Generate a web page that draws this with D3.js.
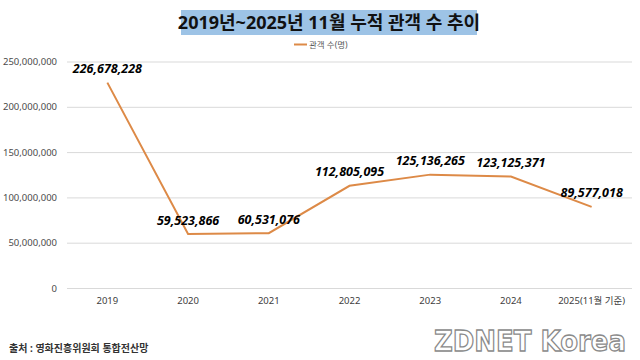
<!DOCTYPE html>
<html><head><meta charset="utf-8">
<script src="https://cdn.jsdelivr.net/npm/d3@7"></script>
<style>body{margin:0;background:#fff}svg{display:block}</style>
</head><body>
<svg id="c" width="640" height="360"></svg>
<script>
const categories = ["2019","2020","2021","2022","2023","2024","2025(11월 기준)"];
const audience = [226678228, 59523866, 60531076, 112805095, 125136265, 123125371, 89577018];
const yTicks = [0, 50000000, 100000000, 150000000, 200000000, 250000000];
const titleText = "2019년~2025년 11월 누적 관객 수 추이";
const legendText = "관객 수(명)";
const sourceText = "출처 : 영화진흥위원회 통합전산망";

const svg = d3.select("#c");
const font = "'Noto Sans','Noto Sans CJK KR',sans-serif";
const m = {l: 67, r: 632, t: 61.5, b: 288};
const x = d3.scaleBand().domain(categories).range([m.l, m.r]);
const y = d3.scaleLinear().domain([0, 250000000]).range([m.b, m.t]);
const fmt = d3.format(",");
const lineColor = "#DD8A47";

// title
svg.append("rect").attr("x",181).attr("y",10).attr("width",296).attr("height",25).attr("fill","#9DC3E6");
svg.append("text").attr("x",329).attr("y",29).attr("text-anchor","middle")
  .attr("font-family",font).attr("font-weight","bold").attr("font-size",18).attr("fill","#111")
  .text(titleText);

// legend
svg.append("line").attr("x1",294).attr("x2",307).attr("y1",44.5).attr("y2",44.5).attr("stroke",lineColor).attr("stroke-width",2);
svg.append("text").attr("x",309).attr("y",47.5).attr("font-family",font).attr("font-size",8.5).attr("fill","#595959").text(legendText);

// grid + y axis
const yAxis = d3.axisLeft(y).tickValues(yTicks).tickSize(-(m.r-m.l)).tickFormat(d3.format(","));
const ga = svg.append("g").attr("transform",`translate(${m.l},0)`).call(yAxis);
ga.select(".domain").remove();
ga.selectAll(".tick line").attr("stroke","#D9D9D9").attr("stroke-width",1);
ga.selectAll(".tick text").attr("x",-10).attr("font-family",font).attr("font-size",9.5).attr("fill","#4a4a4a");

// x axis
const xAxis = d3.axisBottom(x).tickSize(0);
const gx = svg.append("g").attr("transform",`translate(0,${m.b})`).call(xAxis);
gx.select(".domain").remove();
gx.selectAll(".tick text").attr("dy",0).attr("y",16).attr("font-family",font).attr("font-size",9.5).attr("fill","#404040");

// line
const line = d3.line().x((d,i)=>x(categories[i])+x.bandwidth()/2).y(d=>y(d));
svg.append("path").datum(audience).attr("d",line).attr("fill","none").attr("stroke",lineColor).attr("stroke-width",2);

// labels
svg.append("g").selectAll("text").data(audience).join("text")
  .attr("x",(d,i)=>x(categories[i])+x.bandwidth()/2)
  .attr("y",d=>y(d)-9.5)
  .attr("text-anchor","middle")
  .attr("font-family",font).attr("font-weight","bold").attr("font-style","italic").attr("font-size",12.5).attr("fill","#000")
  .text(d=>fmt(d));

// source
svg.append("text").attr("x",9).attr("y",352).attr("font-family",font).attr("font-weight","bold").attr("font-size",10).attr("fill","#333").text(sourceText);

// watermark
svg.append("text").attr("x",626).attr("y",351).attr("text-anchor","end")
  .attr("font-family","'DejaVu Sans',sans-serif").attr("font-weight","bold").attr("font-size",28)
  .attr("fill","#fff").attr("stroke","#8a8a8a").attr("stroke-width",1.3)
  .attr("textLength",192).attr("lengthAdjust","spacingAndGlyphs")
  .text("ZDNET Korea");
</script>
</body></html>
